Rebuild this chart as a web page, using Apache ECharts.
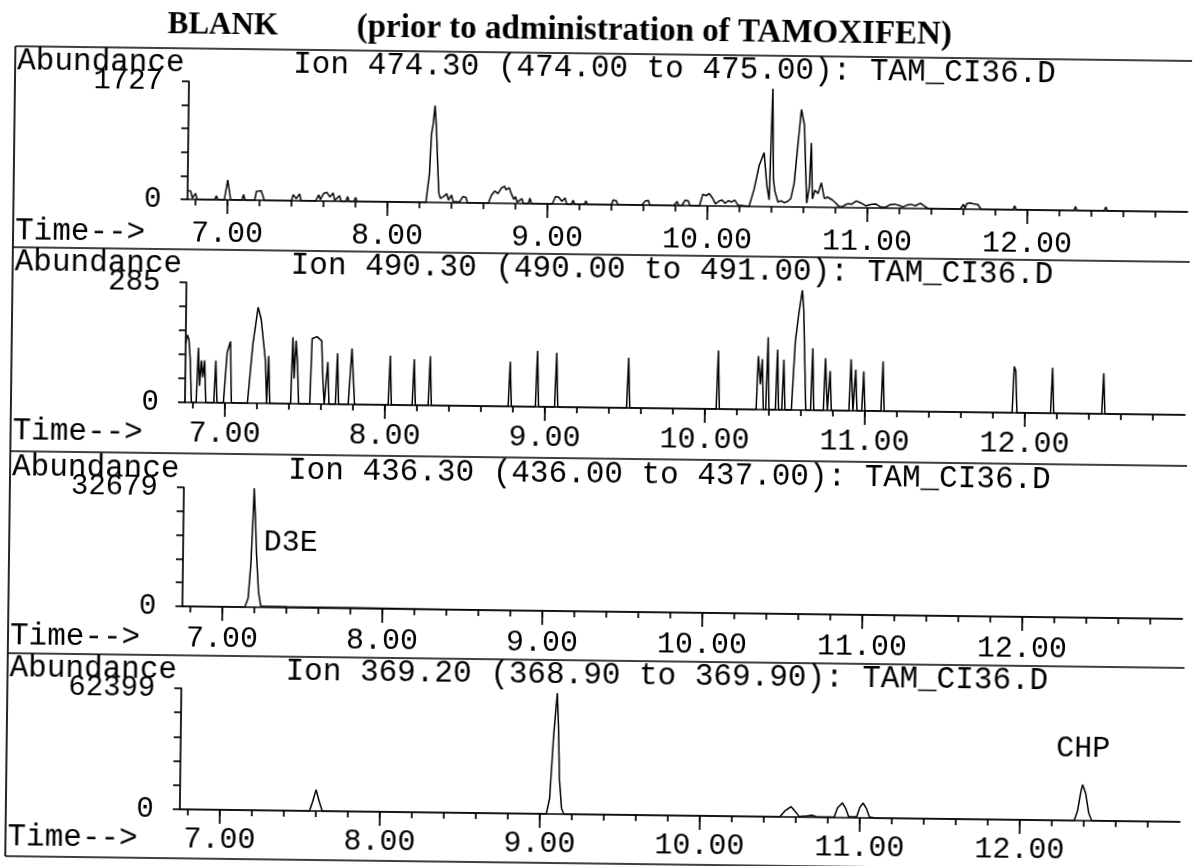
<!DOCTYPE html>
<html>
<head>
<meta charset="utf-8">
<script src="https://cdn.jsdelivr.net/npm/echarts@6/dist/echarts.min.js"></script>
<style>
html,body{margin:0;padding:0;background:#fff;overflow:hidden;}
#chart{width:1193px;height:866px;transform:rotate(0.72deg);transform-origin:0 0;}
</style>
</head>
<body>
<div id="chart"></div>
<script>
// ---------- text ----------
var titleLeft = 'BLANK';
var titleRight = '(prior to administration of TAMOXIFEN)';
var ionLabels = [
  'Ion 474.30 (474.00 to 475.00): TAM_CI36.D',
  'Ion 490.30 (490.00 to 491.00): TAM_CI36.D',
  'Ion 436.30 (436.00 to 437.00): TAM_CI36.D',
  'Ion 369.20 (368.90 to 369.90): TAM_CI36.D'
];
var yMaxValues = [1727, 285, 32679, 62399];
var majorTicks = [7, 8, 9, 10, 11, 12];
var minorTicks = [6.8, 7.0, 7.2, 7.4, 7.6, 7.8, 8.0, 8.2, 8.4, 8.6, 8.8, 9.0, 9.2, 9.4, 9.6, 9.8, 10.0, 10.2, 10.4, 10.6, 10.8, 11.0, 11.2, 11.4, 11.6, 11.8, 12.0, 12.2, 12.4, 12.6, 12.8];
var timeMin = 6.75, timeMax = 13.0;

// ---------- Ion 474.30 ----------
var p1Time = [6.75,6.77,6.78,6.80,6.81,6.92,6.93,6.94,6.98,7.00,7.02,7.09,7.10,7.11,7.17,7.18,7.21,7.23,7.40,7.41,7.43,7.45,7.46,7.55,7.57,7.58,7.60,7.62,7.64,7.66,7.67,7.70,7.71,7.74,7.75,7.76,7.79,7.80,7.81,
8.24,8.26,8.27,8.28,8.29,8.30,8.31,8.32,8.33,8.35,8.37,8.38,8.40,8.41,8.45,8.47,8.49,8.50,
8.63,8.65,8.67,8.69,8.71,8.73,8.74,8.76,8.77,8.79,8.80,8.81,8.84,8.85,8.88,8.89,8.90,
9.03,9.05,9.07,9.09,9.11,9.12,9.15,9.16,9.17,9.23,9.24,9.25,
9.40,9.41,9.43,9.44,9.59,9.61,9.63,9.64,
9.79,9.81,9.82,9.84,9.86,9.88,9.89,
9.95,9.97,9.99,10.01,10.03,10.05,10.07,10.09,10.11,10.13,10.15,10.17,10.19,
10.26,10.29,10.32,10.35,10.37,10.385,10.40,10.41,10.42,10.44,10.46,10.48,10.50,10.52,10.54,10.56,10.58,10.60,10.61,10.62,10.635,10.645,10.655,10.67,10.69,10.71,10.73,10.75,10.76,10.78,10.80,10.82,10.84,10.86,10.88,10.90,10.93,10.96,10.99,11.02,11.05,11.08,11.11,11.14,11.17,11.20,11.22,11.25,11.27,11.30,11.33,11.36,11.38,
11.58,11.60,11.61,11.62,11.64,11.66,11.69,11.71,
11.91,11.92,11.93,12.29,12.30,12.31,12.48,12.49,12.50,13.00];
var p1Abund = [130,120,20,90,0,0,60,0,0,290,0,0,80,0,0,130,140,0,0,90,30,100,0,0,90,20,110,130,60,120,10,80,0,0,70,0,0,60,0,
0,420,1000,1150,1420,1100,600,140,60,90,130,40,110,20,10,90,80,0,
0,120,180,140,220,250,200,230,160,60,100,20,70,0,0,80,0,
0,110,100,40,90,0,0,60,0,0,50,0,
0,70,60,0,0,60,70,0,
0,60,0,0,80,70,0,
0,170,150,180,120,30,70,90,40,80,60,90,20,
0,250,600,790,300,100,1727,400,230,70,90,60,80,120,350,900,1430,1200,600,60,300,940,120,250,200,360,130,150,160,110,70,20,10,40,60,50,100,70,30,50,60,20,10,50,60,40,20,50,60,40,80,30,0,
0,70,10,80,90,80,70,0,
0,60,0,0,60,0,0,60,0,0];

// ---------- Ion 490.30 ----------
var p2Time = [6.75,6.76,6.77,6.78,6.79,6.82,6.83,6.84,6.85,6.86,6.87,6.88,6.93,6.94,6.95,6.99,7.01,7.03,7.04,
7.14,7.17,7.20,7.22,7.25,7.26,7.27,7.28,7.41,7.42,7.43,7.44,7.45,7.46,7.53,7.54,7.57,7.60,7.61,7.62,
7.63,7.64,7.65,7.69,7.70,7.71,7.77,7.79,7.81,8.02,8.03,8.04,8.17,8.18,8.19,8.27,8.28,8.29,
8.77,8.78,8.79,8.94,8.95,8.96,9.06,9.07,9.08,9.51,9.52,9.53,10.07,10.08,10.09,
10.32,10.33,10.345,10.355,10.365,10.38,10.39,10.40,10.44,10.45,10.46,10.48,10.49,10.50,
10.54,10.56,10.58,10.60,10.61,10.62,10.63,10.66,10.67,10.68,10.74,10.75,10.765,10.78,10.79,
10.90,10.91,10.925,10.94,10.95,10.98,10.99,11.00,11.10,11.11,11.12,
11.92,11.93,11.94,11.95,12.16,12.17,12.18,12.48,12.49,12.50,13.00];
var p2Abund = [140,160,150,100,0,0,130,40,100,60,100,0,0,100,0,0,120,146,0,
0,140,228,200,100,0,113,0,0,158,60,150,100,0,0,155,160,150,60,0,
0,100,0,0,121,0,0,133,0,0,117,0,0,109,0,0,117,0,
0,106,0,0,133,0,0,129,0,0,119,0,0,139,0,
0,127,60,120,0,0,172,0,0,143,0,0,119,0,
0,164,230,285,240,120,0,0,147,0,0,124,0,94,0,
0,122,0,98,0,0,94,0,0,118,0,
0,110,100,0,0,108,0,0,97,0,0];

// ---------- Ion 436.30 ----------
var p3Time = [6.75,7.14,7.16,7.175,7.185,7.19,7.20,7.21,7.225,7.24,7.40,7.80,8.40,8.90,13.00];
var p3Abund = [0,0,2500,12000,25000,32679,24000,14000,4000,300,250,200,100,0,0];

// ---------- Ion 369.20 ----------
var p4Time = [6.75,7.56,7.58,7.60,7.62,7.64,9.04,9.06,9.08,9.10,9.11,9.12,9.135,9.15,
10.50,10.53,10.57,10.60,10.62,10.67,10.70,10.73,10.84,10.86,10.89,10.91,10.93,10.98,11.00,11.02,11.04,11.06,11.10,
12.34,12.36,12.38,12.39,12.41,12.43,12.45,13.00];
var p4Abund = [0,0,5000,11000,5000,0,0,8000,40000,62399,45000,18000,3000,0,
0,3000,5300,2500,300,700,1000,300,300,5000,7600,5000,500,500,5500,7600,5000,500,0,
0,5000,15000,18600,14000,4000,0,0];

// ---------- peak annotations ----------
var annoPanel = [2, 3];
var annoText = ['D3E', 'CHP'];
var annoTime = [7.19, 12.39];
var annoValue = [17700, 37000];
var annoPos = ['right', 'inside'];

var panelTimes = [p1Time, p2Time, p3Time, p4Time];
var panelAbund = [p1Abund, p2Abund, p3Abund, p4Abund];

// ---------- layout (not data) ----------
var gridTops = [79, 280, 485, 686];
var gridHeights = [118, 120, 119, 121];
var labelMargins = [19, 16, 17, 15];
var timeRowOffsets = [34, 31, 32, 30];
var gridLeft = 190, gridRight = 3;
var sepLines = [247, 451, 653];
var boxTop = 46, boxBottom = 856, boxLeft = 16;
var mono = '"Liberation Mono", "Courier New", monospace';

var grids = [], xAxes = [], yAxes = [], series = [], graphics = [];

for (var i = 0; i < 4; i++) {
  grids.push({left: gridLeft, right: gridRight, top: gridTops[i], height: gridHeights[i], containLabel: false});
  xAxes.push({
    type: 'value', gridIndex: i, min: timeMin, max: timeMax, position: 'bottom',
    axisLine: {show: true, onZero: false, lineStyle: {color: '#000', width: 1.7}},
    axisTick: {show: true, customValues: majorTicks, length: 14, lineStyle: {color: '#000', width: 1.7}},
    axisLabel: {show: true, customValues: majorTicks, margin: labelMargins[i], color: '#000', fontFamily: mono, fontSize: 30,
      formatter: function (v) { return Number(v).toFixed(2); }},
    splitLine: {show: false}
  });
  xAxes.push({
    type: 'value', gridIndex: i, min: timeMin, max: timeMax, position: 'bottom',
    axisLine: {show: false},
    axisTick: {show: true, customValues: minorTicks, length: 6, lineStyle: {color: '#000', width: 1.7}},
    axisLabel: {show: false},
    splitLine: {show: false}
  });
  (function (mx) {
    yAxes.push({
      type: 'value', gridIndex: i, min: 0, max: mx, interval: mx / 5,
      axisLine: {show: true, lineStyle: {color: '#000', width: 1.7}},
      axisTick: {show: true, length: 7, lineStyle: {color: '#000', width: 1.7}},
      axisLabel: {show: true, margin: 26, color: '#000', fontFamily: mono, fontSize: 29,
        showMinLabel: true, showMaxLabel: true,
        formatter: function (v) {
          if (Math.abs(v) < 1e-9) return '0';
          if (Math.abs(v - mx) < mx * 1e-6) return String(mx);
          return '';
        }},
      splitLine: {show: false}
    });
  })(yMaxValues[i]);

  var pts = [];
  for (var k = 0; k < panelTimes[i].length; k++) pts.push([panelTimes[i][k], panelAbund[i][k]]);
  series.push({
    type: 'line', xAxisIndex: 2 * i, yAxisIndex: i, data: pts, symbol: 'none',
    lineStyle: {color: '#000', width: 1.5}, silent: true, animation: false
  });

  var headerY = gridTops[i] - 18;
  var zeroY = gridTops[i] + gridHeights[i];
  graphics.push({type: 'text', x: 18, y: headerY, silent: true,
    style: {text: 'Abundance', font: '31px ' + mono, fill: '#000', align: 'left', verticalAlign: 'middle', textAlign: 'left', textVerticalAlign: 'middle'}});
  graphics.push({type: 'text', x: 294, y: headerY, silent: true,
    style: {text: ionLabels[i], font: '31px ' + mono, fill: '#000', align: 'left', verticalAlign: 'middle', textAlign: 'left', textVerticalAlign: 'middle'}});
  graphics.push({type: 'text', x: 18, y: zeroY + timeRowOffsets[i], silent: true,
    style: {text: 'Time-->', font: '31px ' + mono, fill: '#000', align: 'left', verticalAlign: 'middle', textAlign: 'left', textVerticalAlign: 'middle'}});
}

for (var a = 0; a < annoText.length; a++) {
  series.push({
    type: 'scatter', xAxisIndex: 2 * annoPanel[a], yAxisIndex: annoPanel[a],
    symbolSize: 0, silent: true, animation: false,
    itemStyle: {opacity: 1, color: '#000'},
    emphasis: {disabled: true},
    data: [{name: annoText[a], value: [annoTime[a], annoValue[a]]}],
    label: {show: true, position: annoPos[a], distance: 10, formatter: '{b}', color: '#000', opacity: 1,
      textBorderWidth: 0, textShadowBlur: 0, fontFamily: mono, fontSize: 30}
  });
}

// title
graphics.push({type: 'text', x: 168, y: 23, silent: true,
  style: {text: titleLeft, font: 'bold 31px "Liberation Serif", serif', fill: '#000', align: 'left', verticalAlign: 'middle', textAlign: 'left', textVerticalAlign: 'middle'}});
graphics.push({type: 'text', x: 357, y: 23, silent: true,
  style: {text: titleRight, font: 'bold 33px "Liberation Serif", serif', fill: '#000', align: 'left', verticalAlign: 'middle', textAlign: 'left', textVerticalAlign: 'middle'}});

// frame lines
var ls = {stroke: '#000', lineWidth: 1.7};
graphics.push({type: 'line', silent: true, shape: {x1: boxLeft, y1: boxTop, x2: 1230, y2: boxTop}, style: ls});
graphics.push({type: 'line', silent: true, shape: {x1: boxLeft, y1: boxBottom, x2: 1230, y2: boxBottom}, style: ls});
graphics.push({type: 'line', silent: true, shape: {x1: boxLeft, y1: boxTop, x2: boxLeft, y2: boxBottom}, style: ls});
for (var s = 0; s < sepLines.length; s++) {
  graphics.push({type: 'line', silent: true, shape: {x1: boxLeft, y1: sepLines[s], x2: 1230, y2: sepLines[s]}, style: ls});
}

var chart = echarts.init(document.getElementById('chart'), null, {renderer: 'canvas'});
chart.setOption({
  backgroundColor: '#fff',
  animation: false,
  grid: grids,
  xAxis: xAxes,
  yAxis: yAxes,
  series: series,
  graphic: {elements: graphics}
});
</script>
</body>
</html>
